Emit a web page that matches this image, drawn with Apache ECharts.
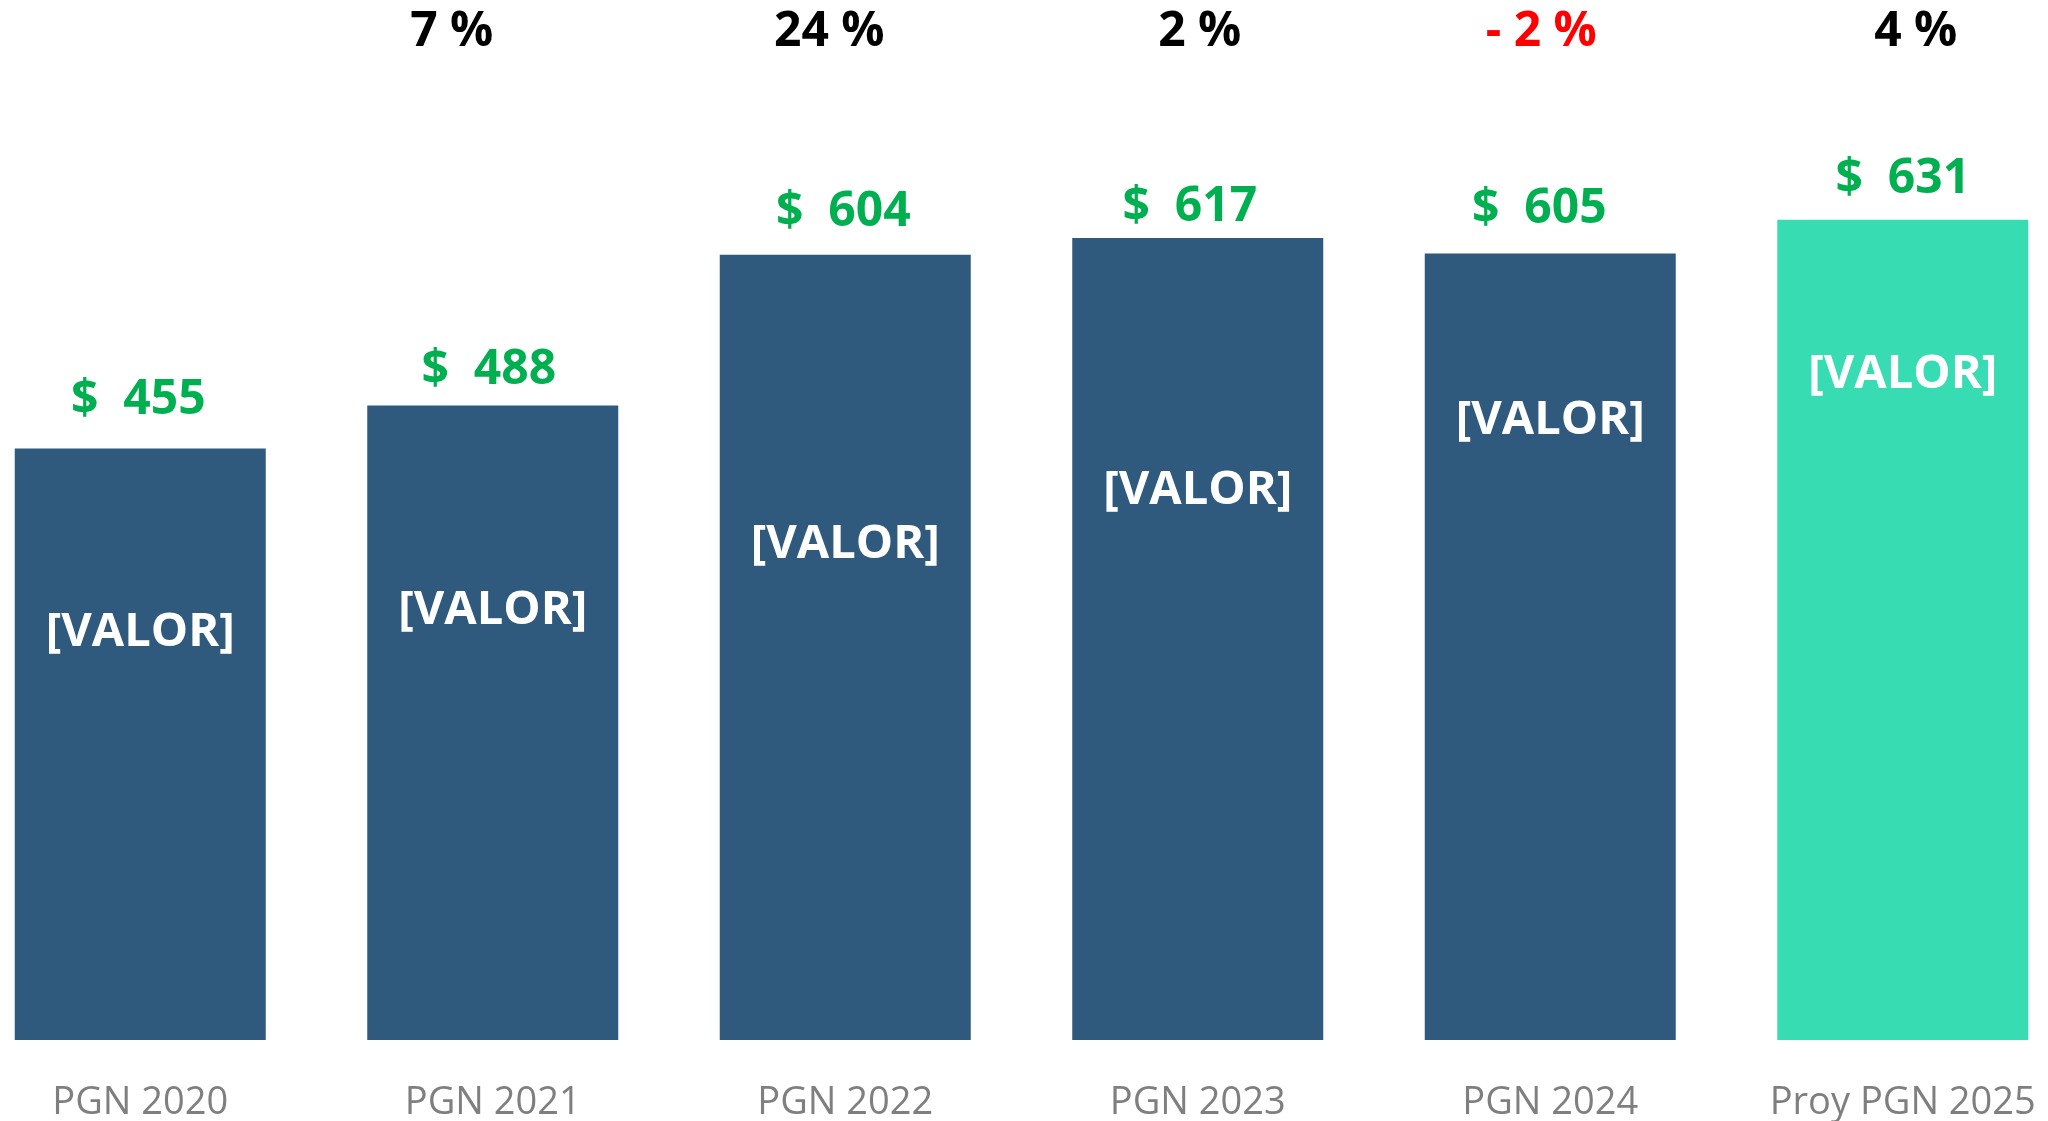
<!DOCTYPE html>
<html>
<head>
<meta charset="utf-8">
<script src="https://cdn.jsdelivr.net/npm/echarts@6/dist/echarts.min.js"></script>
<style>
  html, body { margin: 0; padding: 0; background: #fff; }
  #chart { width: 2048px; height: 1121px; }
</style>
</head>
<body>
<div id="chart"></div>
<script>
// data
const categories = ['PGN 2020', 'PGN 2021', 'PGN 2022', 'PGN 2023', 'PGN 2024', 'Proy PGN 2025'];
const budget = [455, 488, 604, 617, 605, 631];
const pctChange = [null, 7, 24, 2, -2, 4];
const valorText = '[VALOR]';

// label placement (px)
const valorCenterFromTop = [184, 205, 290, 253, 167, 155];
const dollarGap = [36, 23, 30, 19, 32, 28];
const dollarShiftX = [-2, -4, -2, -8, -11, 0];
const pctShiftX = [0, -41, -16, 2, -9, 13];
const pctLevel = 775;

const FONT = '"Open Sans", "Liberation Sans", sans-serif';
const BLUE = '#2F5A7D';
const TEAL = '#38DCB3';

const chart = echarts.init(document.getElementById('chart'));

const mainBars = budget.map((v, i) => ({
  value: v,
  itemStyle: { color: i === budget.length - 1 ? TEAL : BLUE },
  label: { offset: [0, valorCenterFromTop[i]] }
}));

const dollarBars = budget.map((v, i) => ({
  value: v,
  label: { distance: dollarGap[i] + 12, offset: [dollarShiftX[i], 0] }
}));

const pctPoints = pctChange.map((p, i) => {
  if (p === null) return { value: [i, '-'] };
  return {
    value: [i, pctLevel],
    label: {
      formatter: p < 0 ? '- ' + Math.abs(p) + ' %' : p + ' %',
      color: p < 0 ? '#FF0000' : '#000000',
      offset: [pctShiftX[i], 0]
    }
  };
});

const option = {
  animation: false,
  grid: { left: -36, right: -31, top: 0, bottom: 81, outerBoundsMode: 'none', containLabel: false },
  xAxis: {
    type: 'category',
    data: categories,
    axisLine: { show: false },
    axisTick: { show: false },
    axisLabel: {
      interval: 0,
      color: '#7F7F7F',
      fontFamily: FONT,
      fontSize: 38,
      margin: 63,
      verticalAlign: 'middle'
    }
  },
  yAxis: {
    type: 'value',
    min: 0,
    max: 800,
    show: false,
    splitLine: { show: false }
  },
  series: [
    {
      type: 'bar',
      data: mainBars,
      barWidth: 251,
      label: {
        show: true,
        position: 'insideTop',
        distance: 0,
        verticalAlign: 'middle',
        formatter: valorText,
        color: '#FFFFFF',
        fontFamily: FONT,
        fontWeight: 'bold',
        fontSize: 47
      }
    },
    {
      type: 'bar',
      data: dollarBars,
      barWidth: 251,
      barGap: '-100%',
      silent: true,
      itemStyle: { color: 'rgba(0,0,0,0)' },
      label: {
        show: true,
        position: 'top',
        verticalAlign: 'middle',
        formatter: (p) => '$  ' + p.value,
        color: '#00B050',
        fontFamily: FONT,
        fontWeight: 'bold',
        fontSize: 48
      }
    },
    {
      type: 'scatter',
      data: pctPoints,
      symbolSize: 0,
      silent: true,
      itemStyle: { opacity: 1 },
      label: {
        show: true,
        position: 'inside',
        fontFamily: FONT,
        fontWeight: 'bold',
        fontSize: 48
      }
    }
  ]
};

chart.setOption(option);
</script>
</body>
</html>
